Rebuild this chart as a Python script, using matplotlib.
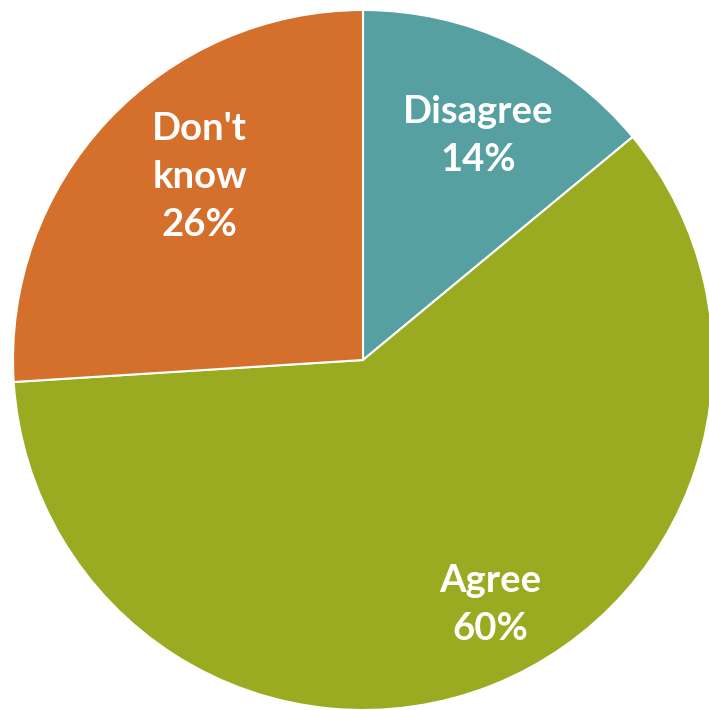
import numpy as np
import matplotlib
matplotlib.use("Agg")
import matplotlib.pyplot as plt

labels = ["Disagree", "Agree", "Don't\nknow"]
shares = [14, 60, 26]
colors = ["#56A0A2", "#9AAB22", "#D4702B"]

# where excel put the labels: radius (fraction of pie) and angle shift (deg)
label_r = [0.72, 0.79, 0.70]
label_shift = [-2.0, 5.8, -5.0]

fig = plt.figure(figsize=(7.09, 7.10), dpi=100)
ax = fig.add_axes([13 / 709, 0, 700 / 709, 700 / 710])

wedges, _ = ax.pie(shares, colors=colors, startangle=90, counterclock=False,
                   wedgeprops=dict(edgecolor="white", linewidth=1.5))

for w, lab, val, r, sh in zip(wedges, labels, shares, label_r, label_shift):
    mid = np.deg2rad((w.theta1 + w.theta2) / 2 + sh)
    ax.text(r * np.cos(mid), r * np.sin(mid), f"{lab}\n{val}%",
            ha="center", va="center", color="white", fontsize=27.5,
            fontweight="bold", family="Lato", linespacing=1.5)

ax.set_xlim(-1, 1)
ax.set_ylim(-1, 1)
ax.set_aspect("equal")
ax.axis("off")
fig.savefig("out.png", dpi=100)
